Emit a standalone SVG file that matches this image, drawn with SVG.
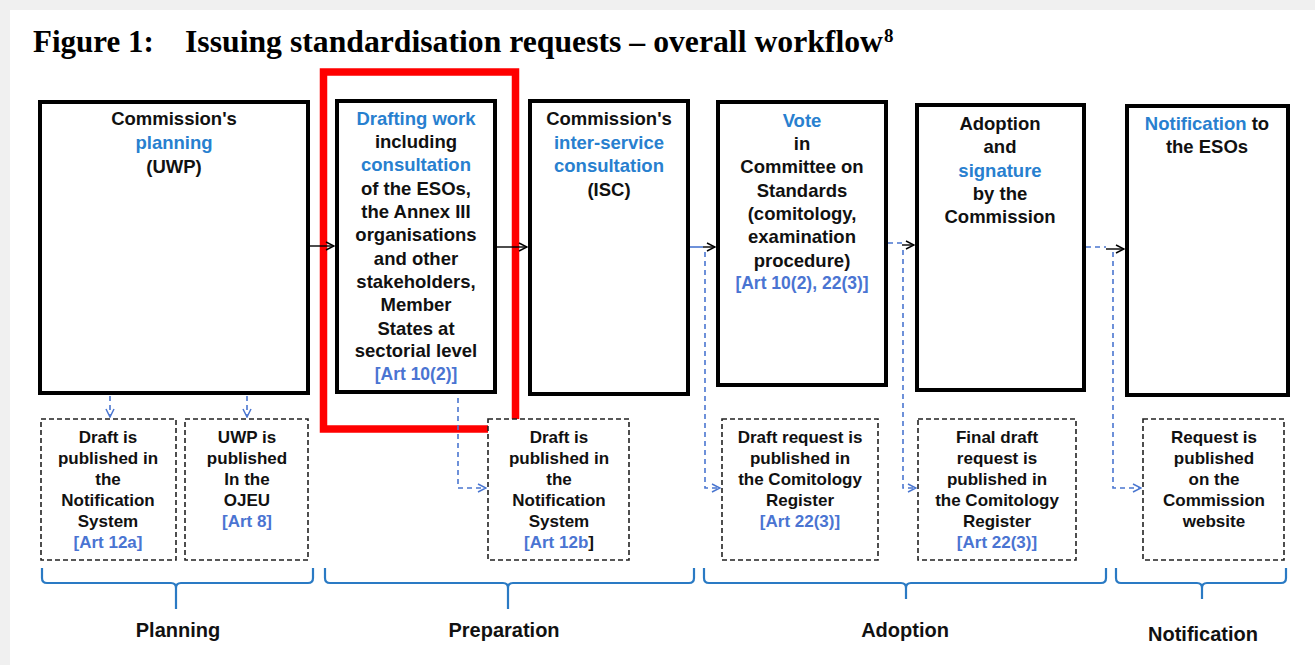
<svg xmlns="http://www.w3.org/2000/svg" width="1315" height="665" viewBox="0 0 1315 665">
<style>
.box{fill:#fff;stroke:#000;stroke-width:4}
.dbox{fill:#fff;stroke:#222;stroke-width:1.6;stroke-dasharray:5 3}
.t{font-family:"Liberation Sans",Arial,sans-serif;font-weight:bold;font-size:18.5px;fill:#111;text-anchor:middle}
.s{font-family:"Liberation Sans",Arial,sans-serif;font-weight:bold;font-size:17px;fill:#111;text-anchor:middle}
.hl{fill:#2880cf}
.art{fill:#4a74d2}
.lbl{font-family:"Liberation Sans",Arial,sans-serif;font-weight:bold;font-size:20px;fill:#111;text-anchor:middle}
.ln{fill:none;stroke:#000;stroke-width:1.4}
.bl{fill:none;stroke:#4a76d0;stroke-width:1.6}
.bd{fill:none;stroke:#4a76d0;stroke-width:1.6;stroke-dasharray:5 4}
.br{fill:none;stroke:#2a7ac4;stroke-width:2.2}
</style>
<defs>
<marker id="ah" viewBox="0 0 10 10" refX="9" refY="5" markerWidth="10" markerHeight="10" markerUnits="userSpaceOnUse" orient="auto">
<path d="M1,1 L9,5 L1,9" fill="none" stroke="#000" stroke-width="1.5"/>
</marker>
<marker id="ahb" viewBox="0 0 10 10" refX="9" refY="5" markerWidth="10" markerHeight="10" markerUnits="userSpaceOnUse" orient="auto">
<path d="M1,1 L9,5 L1,9" fill="none" stroke="#4a76d0" stroke-width="1.5"/>
</marker>
</defs>
<rect x="0" y="0" width="1315" height="665" fill="#f0f0f0"/>
<rect x="10" y="10" width="1305" height="655" fill="#fff"/>
<g id="title">
<text x="33" y="52" font-family="Liberation Serif,Times New Roman,serif" font-weight="bold" font-size="31" fill="#000">Figure 1:</text>
<text x="185" y="52" font-family="Liberation Serif,Times New Roman,serif" font-weight="bold" font-size="31" fill="#000" textLength="698" lengthAdjust="spacingAndGlyphs">Issuing standardisation requests – overall workflow</text>
<text x="884" y="42" font-family="Liberation Serif,Times New Roman,serif" font-weight="bold" font-size="19" fill="#000">8</text>
</g>
<g id="planning">
<rect class="box" x="40" y="102" width="268" height="291"/>
<text class="t"><tspan x="174" y="124.5">Commission's</tspan><tspan x="174" y="148.5" class="hl">planning</tspan><tspan x="174" y="172.5">(UWP)</tspan></text>
</g>
<g id="drafting">
<rect class="box" x="337" y="101" width="158" height="291"/>
<text class="t"><tspan x="416" y="124.5" class="hl">Drafting work</tspan><tspan x="416" y="148">including</tspan><tspan x="416" y="171" class="hl">consultation</tspan><tspan x="416" y="194.5">of the ESOs,</tspan><tspan x="416" y="218">the Annex III</tspan><tspan x="416" y="241">organisations</tspan><tspan x="416" y="264.5">and other</tspan><tspan x="416" y="288">stakeholders,</tspan><tspan x="416" y="311">Member</tspan><tspan x="416" y="334.5">States at</tspan><tspan x="416" y="357">sectorial level</tspan><tspan x="416" y="380" class="art" font-size="17.5">[Art 10(2)]</tspan></text>
</g>
<g id="highlight">
<rect x="323.5" y="72" width="192" height="357" fill="none" stroke="#ff0000" stroke-width="7.5"/>
</g>
<g id="isc">
<rect class="box" x="530" y="101" width="158" height="293"/>
<text class="t"><tspan x="609" y="124.5">Commission's</tspan><tspan x="609" y="148.5" class="hl">inter-service</tspan><tspan x="609" y="171.5" class="hl">consultation</tspan><tspan x="609" y="195.5">(ISC)</tspan></text>
</g>
<g id="vote">
<rect class="box" x="718" y="102" width="168" height="283"/>
<text class="t"><tspan x="802" y="126.5" class="hl">Vote</tspan><tspan x="802" y="149.5">in</tspan><tspan x="802" y="173">Committee on</tspan><tspan x="802" y="196.5">Standards</tspan><tspan x="802" y="219.5">(comitology,</tspan><tspan x="802" y="243">examination</tspan><tspan x="802" y="266.5">procedure)</tspan><tspan x="802" y="288.5" class="art" font-size="17.5">[Art 10(2), 22(3)]</tspan></text>
</g>
<g id="adoption">
<rect class="box" x="917" y="105" width="167" height="285"/>
<text class="t"><tspan x="1000" y="129.5">Adoption</tspan><tspan x="1000" y="153">and</tspan><tspan x="1000" y="176.5" class="hl">signature</tspan><tspan x="1000" y="199.5">by the</tspan><tspan x="1000" y="222.5">Commission</tspan></text>
</g>
<g id="notification">
<rect class="box" x="1127" y="106" width="161" height="289"/>
<text class="t"><tspan x="1207" y="129.5"><tspan class="hl">Notification</tspan> to</tspan><tspan x="1207" y="153">the ESOs</tspan></text>
</g>
<g id="pub-notif-a">
<rect class="dbox" x="41" y="419" width="135" height="141"/>
<text class="s"><tspan x="108" y="443">Draft is</tspan><tspan x="108" y="463.5">published in</tspan><tspan x="108" y="484.5">the</tspan><tspan x="108" y="505.5">Notification</tspan><tspan x="108" y="527">System</tspan><tspan x="108" y="548" class="art">[Art 12a]</tspan></text>
</g>
<g id="pub-ojeu">
<rect class="dbox" x="185" y="419" width="123" height="141"/>
<text class="s"><tspan x="247" y="443">UWP is</tspan><tspan x="247" y="463.5">published</tspan><tspan x="247" y="484.5">In the</tspan><tspan x="247" y="505.5">OJEU</tspan><tspan x="247" y="527" class="art">[Art 8]</tspan></text>
</g>
<g id="pub-notif-b">
<rect class="dbox" x="488" y="419" width="141" height="141"/>
<text class="s"><tspan x="559" y="443">Draft is</tspan><tspan x="559" y="463.5">published in</tspan><tspan x="559" y="484.5">the</tspan><tspan x="559" y="505.5">Notification</tspan><tspan x="559" y="527">System</tspan><tspan x="559" y="548"><tspan class="art">[Art 12b</tspan>]</tspan></text>
</g>
<g id="pub-comit-a">
<rect class="dbox" x="722" y="419" width="156" height="141"/>
<text class="s"><tspan x="800" y="443">Draft request is</tspan><tspan x="800" y="463.5">published in</tspan><tspan x="800" y="484.5">the Comitology</tspan><tspan x="800" y="505.5">Register</tspan><tspan x="800" y="527" class="art">[Art 22(3)]</tspan></text>
</g>
<g id="pub-comit-b">
<rect class="dbox" x="918" y="419" width="158" height="141"/>
<text class="s"><tspan x="997" y="443">Final draft</tspan><tspan x="997" y="463.5">request is</tspan><tspan x="997" y="484.5">published in</tspan><tspan x="997" y="505.5">the Comitology</tspan><tspan x="997" y="527">Register</tspan><tspan x="997" y="548" class="art">[Art 22(3)]</tspan></text>
</g>
<g id="pub-website">
<rect class="dbox" x="1143" y="419" width="141" height="141"/>
<text class="s"><tspan x="1214" y="443">Request is</tspan><tspan x="1214" y="463.5">published</tspan><tspan x="1214" y="484.5">on the</tspan><tspan x="1214" y="505.5">Commission</tspan><tspan x="1214" y="527">website</tspan></text>
</g>
<g id="connectors">
<path class="ln" d="M310,246 H334" marker-end="url(#ah)"/>
<path class="ln" d="M497,247 H527" marker-end="url(#ah)"/>
<path class="bl" d="M690,247 H703"/>
<path class="ln" d="M703,247 H715" marker-end="url(#ah)"/>
<path class="bd" d="M888,243 H902"/>
<path class="ln" d="M902,245 H914" marker-end="url(#ah)"/>
<path class="bd" d="M1086,247 H1106"/>
<path class="ln" d="M1106,249 H1124" marker-end="url(#ah)"/>
<path class="bd" d="M705,252 V488 H720" marker-end="url(#ahb)"/>
<path class="bd" d="M903,250 V488 H916" marker-end="url(#ahb)"/>
<path class="bd" d="M1113,252 V488 H1141" marker-end="url(#ahb)"/>
<path class="bd" d="M110,396 V417" marker-end="url(#ahb)"/>
<path class="bd" d="M247,396 V417" marker-end="url(#ahb)"/>
<path class="bd" d="M458,398 V488 H486" marker-end="url(#ahb)"/>
</g>
<g id="phases">
<path class="br" d="M42,568 V578 Q42,583 47,583 H171 Q176,583 176,588 V609 M176,588 Q176,583 181,583 H308 Q313,583 313,578 V568"/>
<path class="br" d="M325,568 V578 Q325,583 330,583 H503 Q508,583 508,588 V609 M508,588 Q508,583 513,583 H689 Q694,583 694,578 V568"/>
<path class="br" d="M704,568 V578 Q704,583 709,583 H901 Q906,583 906,588 V599 M906,588 Q906,583 911,583 H1101 Q1106,583 1106,578 V568"/>
<path class="br" d="M1116,568 V578 Q1116,583 1121,583 H1197 Q1202,583 1202,588 V599 M1202,588 Q1202,583 1207,583 H1281 Q1286,583 1286,578 V568"/>
<text class="lbl" x="178" y="637">Planning</text>
<text class="lbl" x="504" y="637">Preparation</text>
<text class="lbl" x="905" y="637">Adoption</text>
<text class="lbl" x="1203" y="641">Notification</text>
</g>
</svg>
